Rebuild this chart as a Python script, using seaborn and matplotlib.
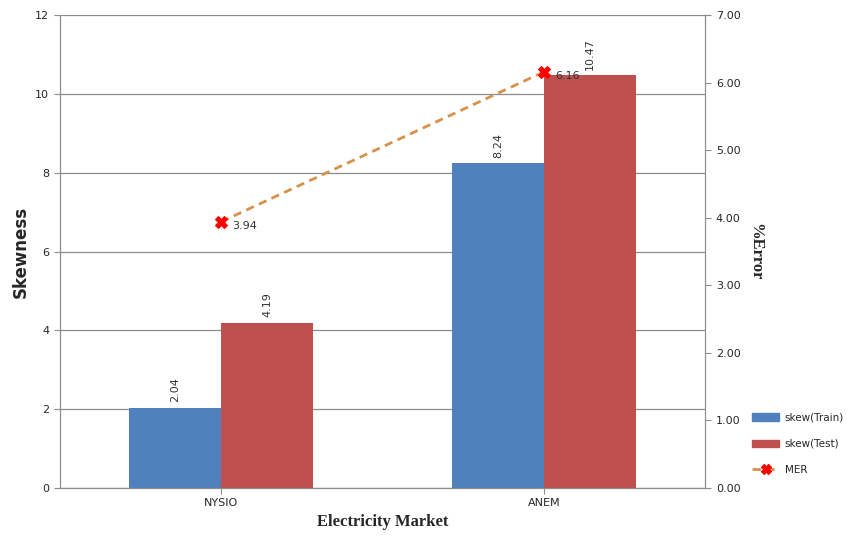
import pandas as pd
import matplotlib.pyplot as plt
import seaborn as sns

markets = ["NYSIO", "ANEM"]
skew_train = [2.04, 8.24]
skew_test = [4.19, 10.47]
mer = [3.94, 6.16]

df = pd.DataFrame({
    "market": markets * 2,
    "skew": skew_train + skew_test,
    "series": ["skew(Train)"] * 2 + ["skew(Test)"] * 2,
})

sns.set_style("white")
plt.rcParams["font.family"] = ["DejaVu Sans"]

fig, ax = plt.subplots(figsize=(8.52, 5.38), dpi=100)
fig.subplots_adjust(left=0.07, right=0.828, top=0.972, bottom=0.093)

sns.barplot(data=df, x="market", y="skew", hue="series",
            palette=["#4F81BD", "#C0504D"], width=0.57, saturation=1,
            linewidth=0, ax=ax, legend=False)

ax.set_ylim(0, 12)
ax.set_xlim(-0.5, 1.5)
ax.set_yticks(range(0, 13, 2))
ax.yaxis.grid(True, color="#8c8c8c", linewidth=0.9)
ax.set_axisbelow(True)
for c in ax.containers:
    ax.bar_label(c, fmt="%.2f", rotation=90, padding=4, fontsize=8, color="#333333")

ax.set_ylabel("Skewness", fontsize=12, fontweight="bold")
ax.set_xlabel("Electricity Market", fontsize=12, fontweight="bold",
              family="Liberation Serif")
ax.tick_params(axis="both", labelsize=8, length=4, direction="out", color="#8c8c8c")
ax.tick_params(axis="y", left=True)
ax.tick_params(axis="x", bottom=True)
for s in ["left", "bottom", "right"]:
    ax.spines[s].set_color("#8c8c8c")
ax.spines["top"].set_visible(False)

ax2 = ax.twinx()
sns.lineplot(x=[0, 1], y=mer, ax=ax2, color="#D8914B", linewidth=2,
             linestyle=(0, (3, 2)), marker="X", markersize=8,
             markerfacecolor="#FF0000", markeredgecolor="#FF0000",
             label="MER", legend=False)
for xi, v in zip([0, 1], mer):
    ax2.annotate(f"{v:.2f}", (xi, v), xytext=(8, -3), textcoords="offset points",
                 fontsize=8, color="#333333", va="center")
ax2.set_ylim(0, 7)
ax2.set_yticks([i for i in range(8)])
ax2.set_yticklabels([f"{i:.2f}" for i in range(8)])
ax2.set_ylabel("%Error", fontsize=12, fontweight="bold",
               family="Liberation Serif", rotation=270, labelpad=16)
ax2.tick_params(axis="y", labelsize=8, length=4, direction="out", color="#8c8c8c", right=True)
ax2.grid(False)
for s in ["left", "bottom", "right"]:
    ax2.spines[s].set_color("#8c8c8c")
ax2.spines["top"].set_visible(False)

handles = [plt.Rectangle((0, 0), 1, 1, color="#4F81BD"),
           plt.Rectangle((0, 0), 1, 1, color="#C0504D"),
           plt.Line2D([], [], color="#D8914B", linestyle=(0, (3, 2)), linewidth=2,
                      marker="X", markersize=7, markerfacecolor="#FF0000",
                      markeredgecolor="#FF0000")]
fig.legend(handles, ["skew(Train)", "skew(Test)", "MER"], loc="center left",
           bbox_to_anchor=(0.883, 0.175), frameon=False, fontsize=7.5,
           handlelength=2.6, handletextpad=0.5, labelspacing=1.55,
           borderaxespad=0, borderpad=0)

plt.savefig("out.png", dpi=100)
